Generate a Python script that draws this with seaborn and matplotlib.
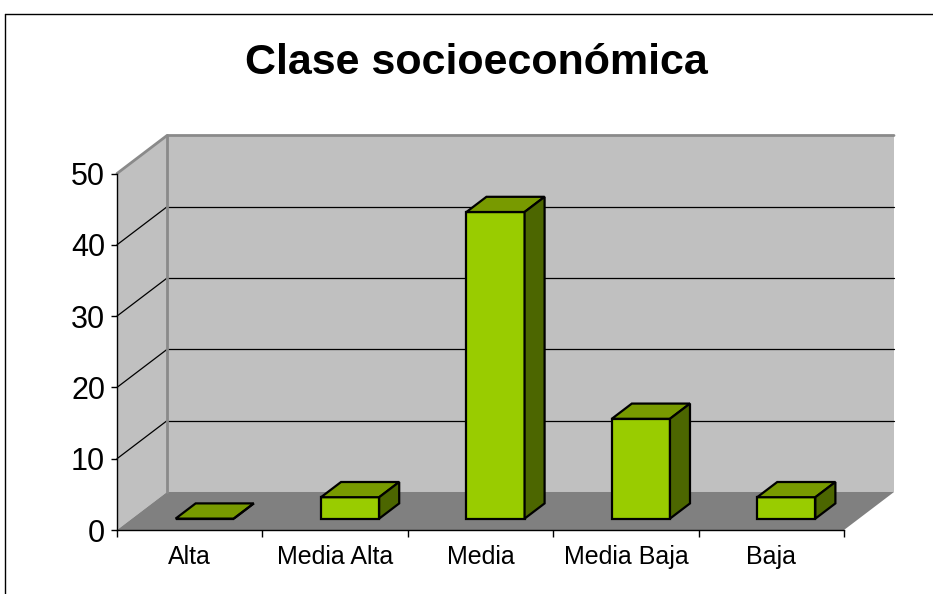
import pandas as pd
import matplotlib.pyplot as plt
import seaborn as sns
from matplotlib.patches import Polygon
from matplotlib.lines import Line2D

# ===========================
# Data
# ===========================
categories = ["Alta", "Media Alta", "Media", "Media Baja", "Baja"]
values = [0, 3, 43, 14, 3]
y_ticks = [0, 10, 20, 30, 40, 50]
title = "Clase socioeconómica"

df = pd.DataFrame({"clase": categories, "n": values})

# ===========================
# 3D look (Excel style)
# ===========================
DX, DY = 0.344, 5.33      # full depth offset in data units
ZF, ZB = 0.30, 0.70       # bar front / back depth
FRONT, TOP, SIDE = "#99cc00", "#789a00", "#4c6600"
WALL, FLOOR, EDGE = "#c0c0c0", "#808080", "#8a8a8a"

sns.set_style("white")
plt.rcParams["font.family"] = ["Liberation Sans", "DejaVu Sans"]
plt.rcParams["text.color"] = "black"
plt.rcParams["xtick.color"] = "black"
plt.rcParams["ytick.color"] = "black"
plt.rcParams["axes.labelcolor"] = "black"

fig = plt.figure(figsize=(9.33, 5.94), dpi=100)
ax = fig.add_axes([117 / 933, 64 / 594, 727 / 933, 356.5 / 594])
ax.set_facecolor("none")

xmin, xmax = -0.5, len(categories) - 0.5
ymax = y_ticks[-1]

# walls and floor
ax.add_patch(Polygon([(xmin + DX, DY), (xmax + DX, DY), (xmax + DX, ymax + DY), (xmin + DX, ymax + DY)],
                     facecolor=WALL, edgecolor="none", zorder=0.3, clip_on=False))
ax.add_patch(Polygon([(xmin, 0), (xmin + DX, DY), (xmin + DX, ymax + DY), (xmin, ymax)],
                     facecolor=WALL, edgecolor="none", zorder=0.3, clip_on=False))
ax.add_patch(Polygon([(xmin, 0), (xmax, 0), (xmax + DX, DY), (xmin + DX, DY)],
                     facecolor=FLOOR, edgecolor="none", zorder=0.35, clip_on=False))

for v in y_ticks[1:-1]:
    ax.add_line(Line2D([xmin + DX, xmax + DX], [v + DY, v + DY], color="black", lw=0.9, zorder=0.4, clip_on=False))
    ax.add_line(Line2D([xmin, xmin + DX], [v, v + DY], color="black", lw=0.9, zorder=0.4, clip_on=False))

ax.add_line(Line2D([xmin, xmin + DX, xmax + DX], [ymax, ymax + DY, ymax + DY], color=EDGE, lw=2, zorder=0.45, clip_on=False))
ax.add_line(Line2D([xmin + DX, xmin + DX], [DY, ymax + DY], color=EDGE, lw=2, zorder=0.45, clip_on=False))

# bars
sns.barplot(data=df, x="clase", y="n", color=FRONT, saturation=1, width=0.4,
            edgecolor="black", linewidth=1.6, ax=ax)

dz = ZB - ZF
for p in list(ax.patches):
    if p.get_facecolor()[:3] != (0.6, 0.8, 0.0):
        continue
    x0 = p.get_x() + ZF * DX
    y0 = ZF * DY
    w, h = p.get_width(), p.get_height()
    p.set_x(x0)
    p.set_y(y0)
    p.set_clip_on(False)
    p.set_zorder(2)
    ax.add_patch(Polygon([(x0, y0 + h), (x0 + w, y0 + h), (x0 + w + dz * DX, y0 + h + dz * DY), (x0 + dz * DX, y0 + h + dz * DY)],
                         facecolor=TOP, edgecolor="black", lw=1.6, joinstyle="miter", zorder=2, clip_on=False))
    ax.add_patch(Polygon([(x0 + w, y0), (x0 + w + dz * DX, y0 + dz * DY), (x0 + w + dz * DX, y0 + h + dz * DY), (x0 + w, y0 + h)],
                         facecolor=SIDE, edgecolor="black", lw=1.6, joinstyle="miter", zorder=2, clip_on=False))

# axes
ax.set_xlim(xmin, xmax)
ax.set_ylim(0, ymax)
ax.set_yticks(y_ticks)
ax.set_xticks(range(len(categories)))
ax.set_xticklabels(categories)
ax.set_xticks([i - 0.5 for i in range(len(categories) + 1)], minor=True)
ax.set_xlabel("")
ax.set_ylabel("")
ax.tick_params(axis="y", direction="out", length=4.5, width=1, color="black", labelsize=22, pad=4, left=True)
ax.tick_params(axis="x", which="major", length=0, labelsize=18, pad=11)
ax.tick_params(axis="x", which="minor", direction="out", length=5, width=1, color="black", bottom=True)
for s in ["top", "right"]:
    ax.spines[s].set_visible(False)
for s in ["left", "bottom"]:
    ax.spines[s].set_color("black")
    ax.spines[s].set_linewidth(1)

fig.text(476 / 933, 1 - 74 / 594, title, ha="center", va="baseline", fontsize=31, fontweight="bold")

# chart frame
ty = 1 - 13.5 / 594
fig.add_artist(Line2D([4.5 / 933, 1.0], [ty, ty], color="black", lw=1))
fig.add_artist(Line2D([4.5 / 933, 4.5 / 933], [0, ty], color="black", lw=1))

fig.savefig("out.png", dpi=100)
